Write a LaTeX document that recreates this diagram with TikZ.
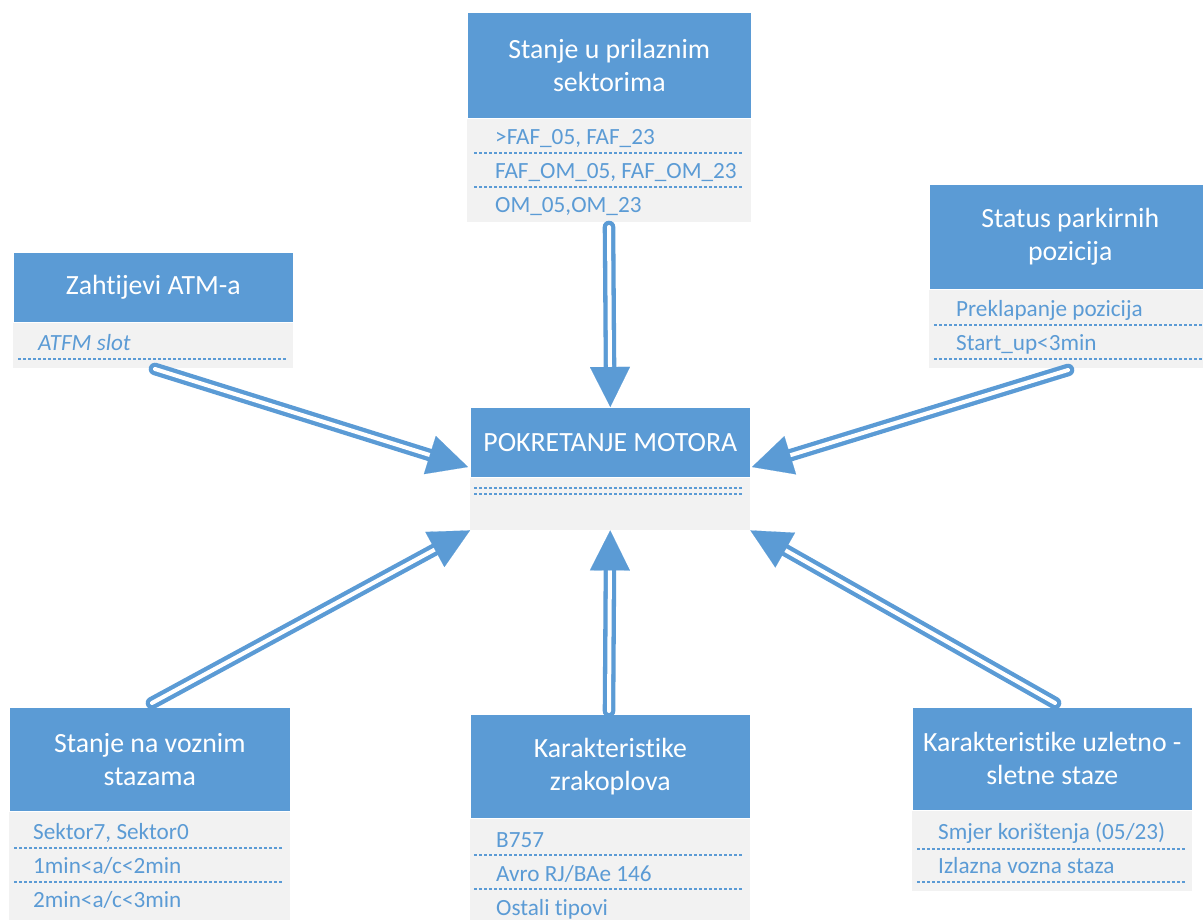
\documentclass[tikz,border=0pt]{standalone}
\usepackage{fontspec}
\setmainfont{Carlito}[Ligatures={NoCommon}]
\usetikzlibrary{arrows.meta,calc}
\definecolor{hblue}{HTML}{5B9BD5}
\definecolor{bgray}{HTML}{F2F2F2}
\tikzset{
  hdr/.style={fill=hblue, draw=white, line width=0.6pt, text=white, align=center, anchor=north west, inner sep=0pt,
    font=\fontsize{27.8}{33}\selectfont},
  bodybox/.style={fill=bgray, draw=none, anchor=north west, inner sep=0pt},
  item/.style={text=hblue, anchor=base west, inner sep=0pt, font=\fontsize{23.2}{27}\selectfont},
  sep/.style={draw=hblue, line width=1.3pt, dash pattern=on 3pt off 2pt},
  shaft/.style={draw=hblue, line width=4.3pt, double=white, double distance=4pt, line cap=round},
  tip/.style={draw=hblue, fill=hblue, line width=0.1pt, -{Triangle[length=40pt,width=40pt]}},
}
\begin{document}
\begin{tikzpicture}[x=1pt,y=-1pt]
\useasboundingbox (0,0) rectangle (1203,919);
\clip (0,0) rectangle (1203,919);

% ---- top box
\node[bodybox, minimum width=284pt, minimum height=105pt] (topB) at (467,117) {};
\node[hdr, minimum width=284pt, minimum height=106pt] (topH) at (467,12) {Stanje u prilaznim\\sektorima};
\node[item] (t1) at (495,144) {>FAF\_05, FAF\_23};
\node[item] (t2) at (495,178) {FAF\_OM\_05, FAF\_OM\_23};
\node[item] (t3) at (495,212) {OM\_05,OM\_23};
\coordinate (ts1a) at (474,153); \coordinate (ts1b) at (743,153);
\coordinate (ts2a) at (474,187); \coordinate (ts2b) at (743,187);
\draw[sep] (ts1a) -- (ts1b);
\draw[sep] (ts2a) -- (ts2b);

% ---- left box
\node[bodybox, minimum width=280pt, minimum height=46pt] (leftB) at (13,322) {};
\node[hdr, minimum width=280pt, minimum height=70pt] (leftH) at (13,252) {Zahtijevi ATM-a};
\node[item, font=\fontsize{23.2}{27}\selectfont\itshape] (l1) at (38,350) {ATFM slot};
\coordinate (ls1a) at (18,359); \coordinate (ls1b) at (287,359);
\draw[sep] (ls1a) -- (ls1b);

% ---- right box
\node[bodybox, minimum width=282pt, minimum height=79pt] (rightB) at (929,289) {};
\node[hdr, minimum width=282pt, minimum height=105pt] (rightH) at (929,184) {Status parkirnih\\pozicija};
\node[item] (r1) at (956,316) {Preklapanje pozicija};
\node[item] (r2) at (956,350) {Start\_up<3min};
\coordinate (rs1a) at (934,325); \coordinate (rs1b) at (1205,325);
\coordinate (rs2a) at (934,359); \coordinate (rs2b) at (1205,359);
\draw[sep] (rs1a) -- (rs1b);
\draw[sep] (rs2a) -- (rs2b);

% ---- center box
\node[bodybox, minimum width=280pt, minimum height=53pt] (cB) at (470,477) {};
\node[hdr, minimum width=280pt, minimum height=70pt] (cH) at (470,407) {POKRETANJE MOTORA};
\coordinate (cs1a) at (474,488); \coordinate (cs1b) at (743,488);
\coordinate (cs2a) at (474,494); \coordinate (cs2b) at (743,494);
\draw[sep] (cs1a) -- (cs1b);
\draw[sep] (cs2a) -- (cs2b);

% ---- bottom left box
\node[bodybox, minimum width=281pt, minimum height=110pt] (blB) at (9,811) {};
\node[hdr, minimum width=281pt, minimum height=104pt] (blH) at (9,707) {Stanje na voznim\\stazama};
\node[item] (bl1) at (33,839) {Sektor7, Sektor0};
\node[item] (bl2) at (33,873) {1min<a/c<2min};
\node[item] (bl3) at (33,907) {2min<a/c<3min};
\coordinate (bls1a) at (14,848); \coordinate (bls1b) at (283,848);
\coordinate (bls2a) at (14,882); \coordinate (bls2b) at (283,882);
\draw[sep] (bls1a) -- (bls1b);
\draw[sep] (bls2a) -- (bls2b);

% ---- bottom center box
\node[bodybox, minimum width=280pt, minimum height=103pt] (bcB) at (470,818) {};
\node[hdr, minimum width=280pt, minimum height=104pt] (bcH) at (470,714) {Karakteristike\\zrakoplova};
\node[item] (bc1) at (496,847) {B757};
\node[item] (bc2) at (496,881) {Avro RJ/BAe 146};
\node[item] (bc3) at (496,915) {Ostali tipovi};
\coordinate (bcs1a) at (474,855); \coordinate (bcs1b) at (743,855);
\coordinate (bcs2a) at (474,889); \coordinate (bcs2b) at (743,889);
\draw[sep] (bcs1a) -- (bcs1b);
\draw[sep] (bcs2a) -- (bcs2b);

% ---- bottom right box
\node[bodybox, minimum width=280pt, minimum height=81pt] (brB) at (912,810) {};
\node[hdr, minimum width=280pt, minimum height=103pt] (brH) at (912,707) {Karakteristike uzletno -\\sletne staze};
\node[item] (br1) at (938,839) {Smjer korištenja (05/23)};
\node[item] (br2) at (938,873) {Izlazna vozna staza};
\coordinate (brs1a) at (917,849); \coordinate (brs1b) at (1186,849);
\coordinate (brs2a) at (917,882); \coordinate (brs2b) at (1186,882);
\draw[sep] (brs1a) -- (brs1b);
\draw[sep] (brs2a) -- (brs2b);

% ---- arrow end points
\coordinate (aTopS) at (609,227);   \coordinate (aTopE) at (cH.north);
\coordinate (aLS) at (155,369);     \coordinate (aLE) at (468,467);
\coordinate (aRS) at (1068,370);    \coordinate (aRE) at (752,467);
\coordinate (aBLS) at (152,703);    \coordinate (aBLE) at (cB.south west);
\coordinate (aBCS) at (609,711);    \coordinate (aBCE) at (cB.south);
\coordinate (aBRS) at (1055,703);   \coordinate (aBRE) at (cB.south east);

\foreach \s/\e in {aTopS/aTopE, aLS/aLE, aRS/aRE, aBLS/aBLE, aBCS/aBCE, aBRS/aBRE}{
  \draw[shaft] (\s) -- ($(\e)!30pt!(\s)$);
  \draw[tip] ($(\e)!39pt!(\s)$) -- (\e);
}
\end{tikzpicture}
\end{document}
